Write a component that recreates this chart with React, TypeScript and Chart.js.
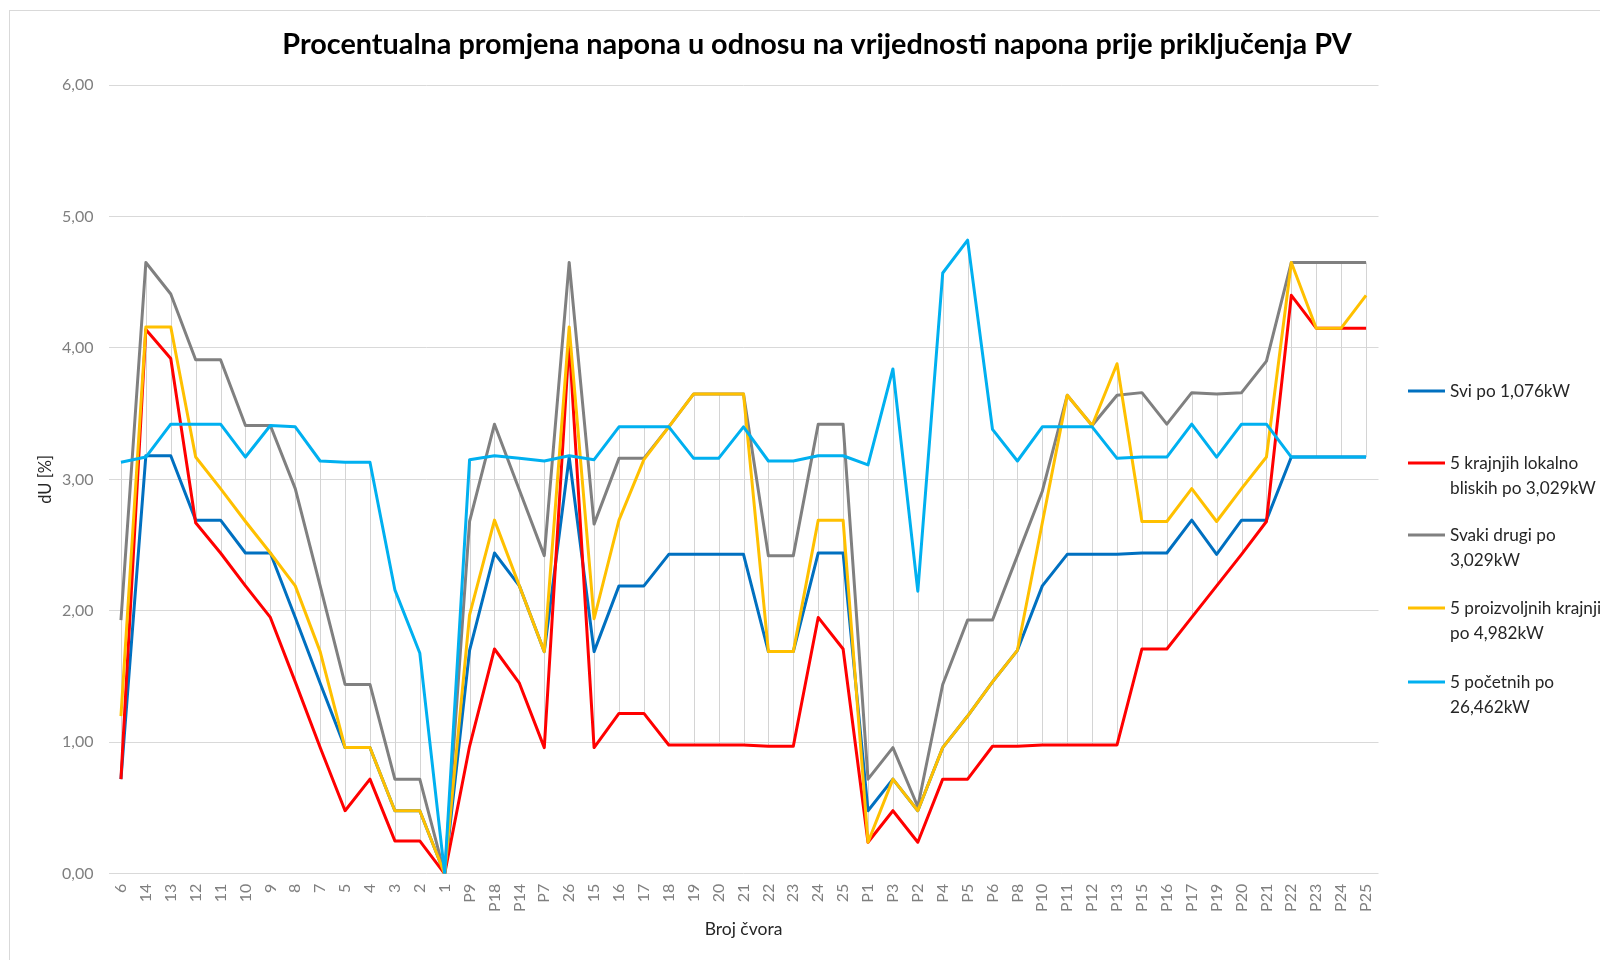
import React, { useEffect, useRef } from "react";
import { Chart, registerables } from "chart.js";

Chart.register(...registerables);

const categories = ["6","14","13","12","11","10","9","8","7","5","4","3","2","1","P9","P18","P14","P7","26","15","16","17","18","19","20","21","22","23","24","25","P1","P3","P2","P4","P5","P6","P8","P10","P11","P12","P13","P15","P16","P17","P19","P20","P21","P22","P23","P24","P25"];

const sviPo1076 = [0.72,3.18,3.18,2.69,2.69,2.44,2.44,1.95,1.45,0.96,0.96,0.48,0.48,0,
  1.70,2.44,2.19,1.69,3.17,1.69,2.19,2.19,2.43,2.43,2.43,2.43,1.69,1.69,2.44,2.44,
  0.48,0.72,0.48,0.96,1.20,1.46,1.70,2.19,2.43,2.43,2.43,2.44,2.44,2.69,2.43,2.69,2.69,3.17,3.17,3.17,3.17];

const krajnjihLokalno = [0.72,4.14,3.92,2.67,2.44,2.19,1.95,1.46,0.96,0.48,0.72,0.25,0.25,0,
  0.97,1.71,1.45,0.96,4.05,0.96,1.22,1.22,0.98,0.98,0.98,0.98,0.97,0.97,1.95,1.71,
  0.24,0.48,0.24,0.72,0.72,0.97,0.97,0.98,0.98,0.98,0.98,1.71,1.71,1.95,2.19,2.43,2.68,4.40,4.15,4.15,4.15];

const svakiDrugi = [1.93,4.65,4.41,3.91,3.91,3.41,3.41,2.93,2.19,1.44,1.44,0.72,0.72,0,
  2.68,3.42,2.92,2.42,4.65,2.66,3.16,3.16,3.40,3.65,3.65,3.65,2.42,2.42,3.42,3.42,
  0.72,0.96,0.51,1.44,1.93,1.93,2.42,2.91,3.64,3.41,3.64,3.66,3.42,3.66,3.65,3.66,3.90,4.65,4.65,4.65,4.65];

const proizvoljnih = [1.20,4.16,4.16,3.17,2.93,2.68,2.44,2.19,1.69,0.96,0.96,0.48,0.48,0,
  1.97,2.69,2.19,1.69,4.16,1.94,2.69,3.15,3.40,3.65,3.65,3.65,1.69,1.69,2.69,2.69,
  0.24,0.72,0.48,0.96,1.20,1.46,1.70,2.67,3.64,3.41,3.88,2.68,2.68,2.93,2.68,2.93,3.17,4.65,4.15,4.15,4.40];

const pocetnih = [3.13,3.17,3.42,3.42,3.42,3.17,3.41,3.40,3.14,3.13,3.13,2.16,1.68,0,
  3.15,3.18,3.16,3.14,3.18,3.15,3.40,3.40,3.40,3.16,3.16,3.40,3.14,3.14,3.18,3.18,
  3.11,3.84,2.15,4.57,4.82,3.38,3.14,3.40,3.40,3.40,3.16,3.17,3.17,3.42,3.17,3.42,3.42,3.17,3.17,3.17,3.17];

const seriesLabels = [
  ["Svi po 1,076kW"],
  ["5 krajnjih lokalno", "bliskih po 3,029kW"],
  ["Svaki drugi po", "3,029kW"],
  ["5 proizvoljnih krajnjih", "po 4,982kW"],
  ["5 početnih po", "26,462kW"],
];
const seriesColors = ["#0070C0", "#FF0000", "#808080", "#FFC000", "#00B0F0"];
const seriesData = [sviPo1076, krajnjihLokalno, svakiDrugi, proizvoljnih, pocetnih];

const chartTitle = "Procentualna promjena napona u odnosu na vrijednosti napona prije priključenja PV";
const xTitle = "Broj čvora";
const yTitle = "dU [%]";

const FONT = "Lato, 'Open Sans', sans-serif";

const extrasPlugin = {
  id: "extras",
  beforeDatasetsDraw(chart: any) {
    const ctx = chart.ctx;
    const x = chart.scales.x;
    const y = chart.scales.y;
    ctx.save();
    ctx.strokeStyle = "#d4d4d4";
    ctx.lineWidth = 1;
    for (let i = 0; i < categories.length; i++) {
      const vals = seriesData.map((s) => s[i]);
      const hi = Math.max(...vals);
      const lo = Math.min(...vals);
      const px = Math.round(x.getPixelForValue(i)) + 0.5;
      ctx.beginPath();
      ctx.moveTo(px, y.getPixelForValue(hi));
      ctx.lineTo(px, y.getPixelForValue(lo));
      ctx.stroke();
    }
    ctx.restore();
  },
  afterDraw(chart: any) {
    const ctx = chart.ctx;
    ctx.save();
    // title
    ctx.fillStyle = "#000000";
    ctx.font = `bold 28.8px ${FONT}`;
    ctx.textAlign = "center";
    ctx.textBaseline = "middle";
    ctx.fillText(chartTitle, 809, 37);
    // legend
    const ys = [383, 455, 527, 600, 674];
    ctx.font = `17.2px ${FONT}`;
    ctx.textAlign = "left";
    for (let i = 0; i < seriesLabels.length; i++) {
      ctx.strokeStyle = seriesColors[i];
      ctx.lineWidth = 3;
      ctx.beginPath();
      ctx.moveTo(1400, ys[i]);
      ctx.lineTo(1437, ys[i]);
      ctx.stroke();
      ctx.fillStyle = "#262626";
      seriesLabels[i].forEach((line, j) => {
        ctx.fillText(line, 1442, ys[i] + j * 25);
      });
    }
    ctx.restore();
  },
};

export default function App() {
  const ref = useRef<HTMLCanvasElement | null>(null);
  useEffect(() => {
    if (!ref.current) return;
    const order = [5, 4, 3, 2, 1];
    const chart = new Chart(ref.current, {
      type: "line",
      data: {
        labels: categories,
        datasets: seriesData.map((d, i) => ({
          label: seriesLabels[i].join(" "),
          data: d,
          borderColor: seriesColors[i],
          backgroundColor: seriesColors[i],
          borderWidth: 3,
          pointRadius: 0,
          tension: 0,
          fill: false,
          order: order[i],
          borderJoinStyle: "round" as const,
        })),
      },
      options: {
        animation: false,
        responsive: false,
        layout: { padding: { left: 0, right: 229.5, top: 77, bottom: 0 } },
        plugins: {
          legend: { display: false },
          title: { display: false },
          tooltip: { enabled: false },
        },
        scales: {
          x: {
            offset: true,
            grid: { display: false, drawTicks: false },
            border: { display: false },
            ticks: {
              autoSkip: false,
              minRotation: 90,
              maxRotation: 90,
              padding: 10,
              color: "#7f7f7f",
              font: { family: FONT, size: 16 },
            },
            title: {
              display: true,
              text: xTitle,
              color: "#262626",
              font: { family: FONT, size: 17.5 },
              padding: { top: 0, bottom: 20.5 },
            },
            afterFit: (s: any) => {
              s.height = 86.2;
            },
          },
          y: {
            min: 0,
            max: 6,
            ticks: {
              stepSize: 1,
              padding: 15,
              color: "#7f7f7f",
              font: { family: FONT, size: 16 },
              callback: (v: any) => Number(v).toFixed(2).replace(".", ","),
            },
            grid: { color: "#d9d9d9", drawTicks: false },
            border: { display: false },
            title: {
              display: true,
              text: yTitle,
              color: "#262626",
              font: { family: FONT, size: 16.5 },
              padding: { top: 28, bottom: 0 },
            },
            afterFit: (s: any) => {
              s.width = 100.5;
            },
          },
        },
      },
      plugins: [extrasPlugin],
    });
    return () => chart.destroy();
  }, []);

  return (
    <div style={{ position: "relative", width: 1600, height: 952, overflow: "hidden" }}>
      <div
        style={{
          position: "absolute",
          left: 1,
          top: 2,
          width: 2000,
          height: 2000,
          border: "1px solid #d9d9d9",
        }}
      />
      <canvas
        ref={ref}
        width={1600}
        height={952}
        style={{ position: "absolute", left: 0, top: 0, width: 1600, height: 952 }}
      />
    </div>
  );
}
